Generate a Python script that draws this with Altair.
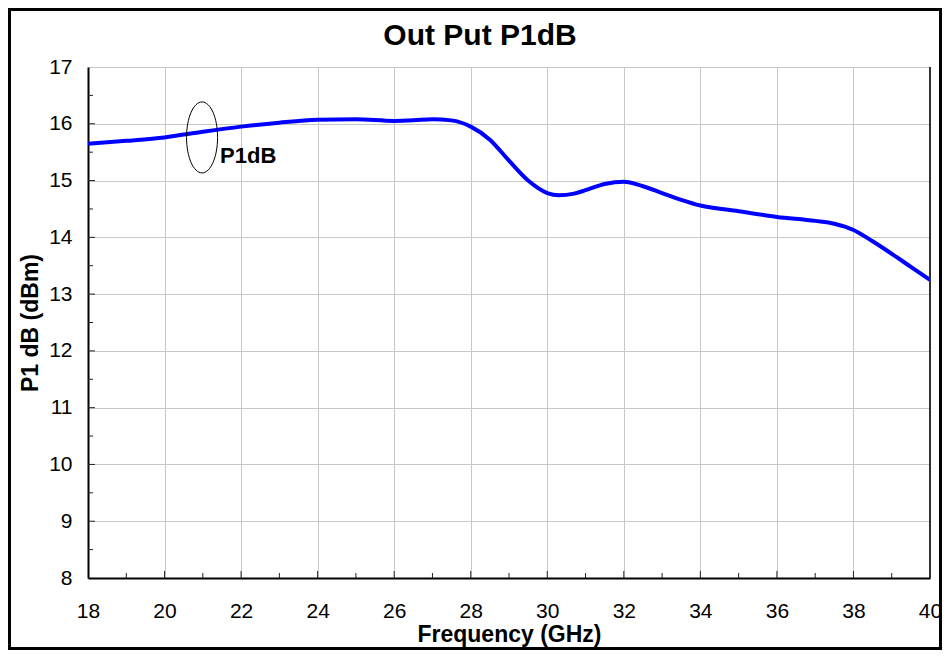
import altair as alt
import pandas as pd

# Curve
freq = [18, 19, 20, 21, 22, 23, 24, 25, 26, 26.5, 27, 27.5, 28, 28.5, 29, 29.5,
        30, 30.3, 30.7, 31, 31.5, 32, 32.5, 33, 33.5, 34, 35, 36, 37, 37.5, 38,
        38.5, 39, 39.5, 40]
p1db = [15.65, 15.70, 15.76, 15.86, 15.95, 16.02, 16.07, 16.08, 16.05, 16.06,
        16.08, 16.06, 15.95, 15.72, 15.35, 15.00, 14.78, 14.74, 14.77, 14.83,
        14.94, 14.98, 14.90, 14.78, 14.66, 14.56, 14.46, 14.36, 14.29, 14.24,
        14.13, 13.93, 13.71, 13.48, 13.25]

x_major = [18, 20, 22, 24, 26, 28, 30, 32, 34, 36, 38, 40]
x_minor = [19, 21, 23, 25, 27, 29, 31, 33, 35, 37, 39]
y_major = [8, 9, 10, 11, 12, 13, 14, 15, 16, 17]
y_minor = [8.5, 9.5, 10.5, 11.5, 12.5, 13.5, 14.5, 15.5, 16.5]

series_label = ["P1dB"]
label_freq = [21.45]
label_p1db = [15.44]
ellipse_freq = [20.98]
ellipse_p1db = [15.76]

FONT = "Liberation Sans"
W, H = 842, 511
PL, PT, PR, PB = 80, 59, 12, 72

xs = alt.Scale(domain=[18, 40], nice=False, zero=False)
ys = alt.Scale(domain=[8, 17], nice=False, zero=False)

x_axis = alt.Axis(values=x_major, format="d", labelFont=FONT, labelFontSize=21,
                  labelColor="black", labelPadding=22, ticks=False, tickSize=0,
                  domainColor="black", domainWidth=2, gridColor="#C8C8C8",
                  gridWidth=1, title="Frequency (GHz)", titleFont=FONT,
                  titleFontSize=23, titleFontWeight="bold", titleColor="black",
                  titlePadding=2, labelFlush=False)
y_axis = alt.Axis(values=y_major, format="d", labelFont=FONT, labelFontSize=21,
                  labelColor="black", labelPadding=16, ticks=False, tickSize=0,
                  domainColor="black", domainWidth=2, gridColor="#C8C8C8",
                  gridWidth=1, title="P1 dB (dBm)", titleFont=FONT,
                  titleFontSize=23, titleFontWeight="bold", titleColor="black",
                  titlePadding=6)

def X():
    return alt.X("freq:Q", scale=xs, axis=x_axis, title="Frequency (GHz)")

def Y():
    return alt.Y("p1db:Q", scale=ys, axis=y_axis, title="P1 dB (dBm)")

df = pd.DataFrame({"freq": freq, "p1db": p1db})

line = alt.Chart(df).mark_line(color="#0000FF", strokeWidth=4,
                               interpolate="monotone").encode(x=X(), y=Y())

xmin_df = pd.DataFrame({"freq": x_minor})
xmaj_df = pd.DataFrame({"freq": x_major[1:-1]})
ymin_df = pd.DataFrame({"p1db": y_minor})
ymaj_df = pd.DataFrame({"p1db": y_major[1:-1]})

xminor = alt.Chart(xmin_df).mark_rule(color="#222", strokeWidth=1).encode(
    x=X(), y=alt.value(H), y2=alt.value(H - 5))
xmajor = alt.Chart(xmaj_df).mark_rule(color="#222", strokeWidth=1).encode(
    x=X(), y=alt.value(H), y2=alt.value(H - 7))
yminor = alt.Chart(ymin_df).mark_rule(color="#222", strokeWidth=1).encode(
    y=Y(), x=alt.value(0), x2=alt.value(5))
ymajor = alt.Chart(ymaj_df).mark_rule(color="#222", strokeWidth=1).encode(
    y=Y(), x=alt.value(0), x2=alt.value(7))

right_edge = alt.Chart(pd.DataFrame({"a": [0]})).mark_rule(
    color="#333", strokeWidth=2).encode(
    x=alt.value(W), y=alt.value(0), y2=alt.value(H))

ell_df = pd.DataFrame({"freq": ellipse_freq, "p1db": ellipse_p1db})
ellipse = alt.Chart(ell_df).mark_point(
    shape="M0,-1 A0.437,1 0 1,1 0,1 A0.437,1 0 1,1 0,-1 Z",
    size=5041, filled=False, color="black", strokeWidth=1, opacity=1
).encode(x=X(), y=Y())

lab_df = pd.DataFrame({"freq": label_freq, "p1db": label_p1db,
                       "label": series_label})
label = alt.Chart(lab_df).mark_text(
    font=FONT, fontSize=22, fontWeight="bold", color="black",
    align="left", baseline="middle"
).encode(x=X(), y=Y(), text="label:N")

frame = alt.Chart(pd.DataFrame({"a": [0]})).mark_rect(
    filled=False, stroke="black", strokeWidth=3, clip=False).encode(
    x=alt.value(-PL + 1.5), x2=alt.value(W + PR - 1.5),
    y=alt.value(-PT + 1.5), y2=alt.value(H + PB - 1.5))

chart = alt.layer(
    line, xminor, xmajor, yminor, ymajor, right_edge, ellipse, label, frame
).properties(
    width=W, height=H,
    title=alt.TitleParams("Out Put P1dB", font=FONT, fontSize=30,
                          fontWeight="bold", color="black", anchor="middle",
                          frame="group", dx=-29, offset=-43),
    autosize=alt.AutoSizeParams(type="none"),
    padding={"left": PL, "top": PT, "right": PR, "bottom": PB},
    background="white",
).configure_view(stroke=None)

chart.save("out.html", embed_options={"renderer": "svg", "actions": False})
